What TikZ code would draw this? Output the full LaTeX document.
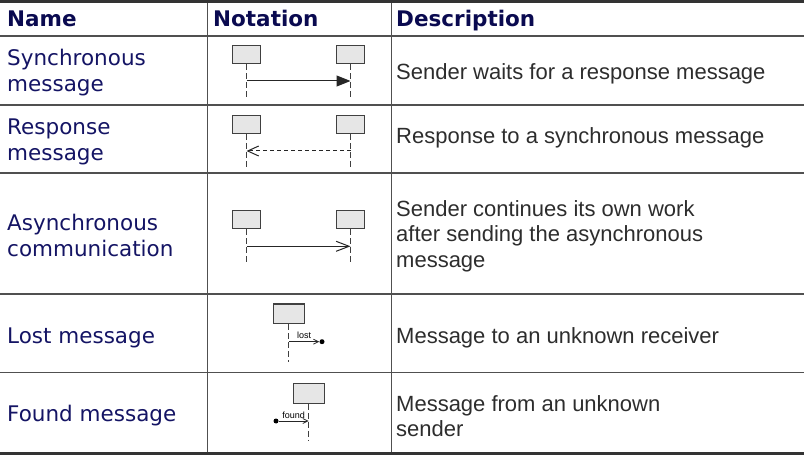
\documentclass[tikz,border=0pt]{standalone}
\usepackage{fontspec}
\usepackage{tikz}
\usetikzlibrary{positioning}
\usetikzlibrary {arrows.meta}
\newfontfamily\namefont{DejaVu Sans}
\newfontfamily\descfont{Liberation Sans}
\definecolor{headcol}{RGB}{10,10,80}
\definecolor{namecol}{RGB}{20,20,100}
\definecolor{desccol}{RGB}{45,45,45}
\definecolor{rulecol}{RGB}{80,80,80}
\definecolor{boxdraw}{RGB}{64,64,64}
\definecolor{boxfill}{RGB}{230,230,230}

\begin{document}
\begin{tikzpicture}[x=1bp,y=-1bp,
		thickrule/.style={draw=black!80,line width=3bp},
		thinrule/.style={draw=rulecol,line width=1.5bp},
		headcell/.style={anchor=base west,inner sep=0pt,text=headcol,font=\namefont\bfseries\fontsize{21.5bp}{26bp}\selectfont},
		namecell/.style={anchor=west,align=left,inner sep=0pt,text=namecol,font=\namefont\fontsize{21.5bp}{26bp}\selectfont},
		desccell/.style={anchor=west,align=left,inner sep=0pt,text=desccol,font=\descfont\fontsize{22bp}{25.5bp}\selectfont},
		obj/.style={draw=boxdraw,fill=boxfill,line width=1.2bp,minimum width=28bp,minimum height=18bp,inner sep=0pt},
		smallobj/.style={obj,minimum width=31bp,minimum height=19.5bp},
		lifeline/.style={draw=boxdraw,line width=1bp,dash pattern=on 6bp off 3bp},
		msg/.style={draw=black!85,line width=1bp},
		msglabel/.style={inner sep=0pt,font=\descfont\fontsize{9bp}{10bp}\selectfont},
		enddot/.style={circle,fill=black,inner sep=0pt,minimum size=5bp}]
		\useasboundingbox (0,0) rectangle (804,458);
		
		\draw[thinrule] (0,36) -- (804,36);
		\draw[thinrule] (0,105) -- (804,105);
		\draw[thinrule] (0,173) -- (804,173);
		\draw[thinrule] (0,294) -- (804,294);
		\draw[thinrule] (0,372.5) -- (804,372.5);
		\draw[thinrule] (207.5,0) -- (207.5,453);
		\draw[thinrule] (391.5,0) -- (391.5,453);
		\draw[thickrule] (0,1.5) -- (804,1.5);
		\draw[thickrule] (0,453) -- (804,453);
		
		\node[headcell] (hname) at (7,26.5) {Name};
		\node[headcell] (hnotation) at (213,26.5) {Notation};
		\node[headcell] (hdesc) at (396,26.5) {Description};
		
		\node[namecell] (nsync) at (7,72.5) {Synchronous\\message};
		\node[namecell] (nresp) at (7,142) {Response\\message};
		\node[namecell] (nasync) at (7,235.5) {Asynchronous\\communication};
		\node[namecell] (nlost) at (7,338) {Lost message};
		\node[namecell] (nfound) at (7,416) {Found message};
		
		\node[desccell] (dsync) at (396,74.3) {Sender waits for a response message};
		\node[desccell] (dresp) at (396,137.6) {Response to a synchronous message};
		\node[desccell] (dasync) at (396,236.3) {Sender continues its own work\\after sending the asynchronous\\message};
		\node[desccell] (dlost) at (396,337.5) {Message to an unknown receiver};
		\node[desccell] (dfound) at (396,416) {Message from an unknown\\sender};
		
		\node[obj] (sa) at (246.5,54.5) {};
		\node[obj] (sb) at (350.5,54.5) {};
		\coordinate (saend) at (246.5,99);
		\coordinate (sbend) at (350.5,99);
		\draw[lifeline] (sa) -- (saend);
		\draw[lifeline] (sb) -- (sbend);
		\coordinate (sam) at (246.5,81);
		\coordinate (sbm) at (350.5,81);
		\draw[msg,-{Triangle[length=14bp,width=11bp]}] (sam) -- (sbm);
		
		\node[obj] (ra) at (246.5,124.2) {};
		\node[obj] (rb) at (350.5,124.2) {};
		\coordinate (raend) at (246.5,168);
		\coordinate (rbend) at (350.5,168);
		\draw[lifeline] (ra) -- (raend);
		\draw[lifeline] (rb) -- (rbend);
		\coordinate (ram) at (246.5,151);
		\coordinate (rbm) at (350.5,151);
		\draw[msg,dash pattern=on 4bp off 3bp,-{Straight Barb[length=11bp,width=10bp]}] (rbm) -- (ram);
		
		\node[obj] (aa) at (246.5,219.5) {};
		\node[obj] (ab) at (350.5,219.5) {};
		\coordinate (aaend) at (246.5,263);
		\coordinate (abend) at (350.5,263);
		\draw[lifeline] (aa) -- (aaend);
		\draw[lifeline] (ab) -- (abend);
		\coordinate (aam) at (246.5,246.3);
		\coordinate (abm) at (350.5,246.3);
		\draw[msg,-{Straight Barb[length=13bp,width=10bp]}] (aam) -- (abm);
		
		\node[smallobj] (lobj) at (288.8,313.7) {};
		\coordinate (lend) at (288.8,362);
		\draw[lifeline] (lobj) -- (lend);
		\coordinate (lm) at (288.8,341.7);
		\node[enddot] (ldot) at (322,341.7) {};
		\draw[msg,line width=0.8bp,-{Straight Barb[length=5bp,width=5bp]}] (lm) -- (ldot) node[msglabel,midway,above=2.5bp]{lost};
		
		\node[smallobj] (fobj) at (308.7,393.5) {};
		\coordinate (fend) at (308.7,441);
		\draw[lifeline] (fobj) -- (fend);
		\coordinate (fm) at (308.7,421);
		\node[enddot] (fdot) at (276,421) {};
		\draw[msg,line width=0.8bp,-{Straight Barb[length=5bp,width=5bp]}] (fdot) -- (fm) node[msglabel,midway,above=2.5bp]{found};
	\end{tikzpicture}
\end{document}
